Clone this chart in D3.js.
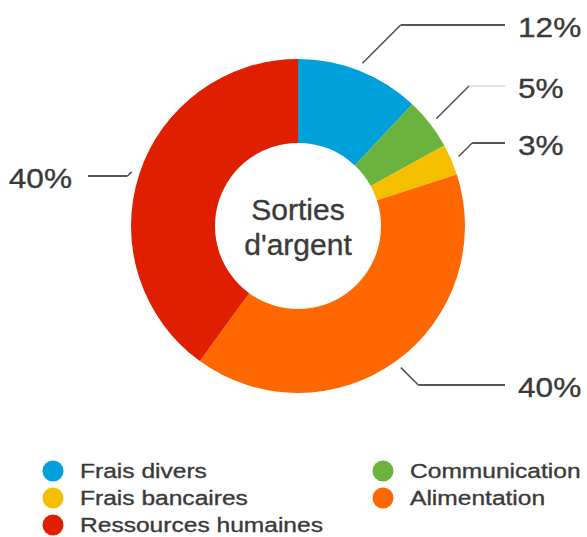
<!DOCTYPE html>
<html>
<head>
<meta charset="utf-8">
<script src="https://cdn.jsdelivr.net/npm/d3@7"></script>
<style>
  html, body { margin: 0; padding: 0; background: #fff; }
  svg { display: block; }
  text { font-family: "Liberation Sans", Arial, Helvetica, sans-serif; fill: #3a3a3a; stroke: #3a3a3a; stroke-width: 0.35px; }
</style>
</head>
<body>
<svg id="chart" width="587" height="537"></svg>
<script>
// ---- data ----
const categories = ["Frais divers", "Communication", "Frais bancaires", "Alimentation", "Ressources humaines"];
const values = [12, 5, 3, 40, 40];
const colors = ["#00A0DA", "#6BB33F", "#F5BF00", "#FF6700", "#E01F00"];
const centerTitle = ["Sorties", "d'argent"];

// ---- layout ----
const W = 587, H = 537;
const cx = 298, cy = 226;
const outerR = 167, innerR = 83, leaderR = 175;
const labelLineY = [25, 86, 143, 385, 176];   // label placement (avoids overlap)
const lineColor = ["#555", "#555", "#555", "#555", "#555"];
const hLineColor = ["#555", "#e2e2e2", "#555", "#555", "#555"];
const stretch = 1.17;

const svg = d3.select("#chart");
const g = svg.append("g").attr("transform", `translate(${cx},${cy})`);

const pie = d3.pie().sort(null).value(d => d.v).startAngle(0).endAngle(2 * Math.PI);
const data = pie(values.map((v, i) => ({ v, name: categories[i], i })));
const arc = d3.arc().innerRadius(innerR).outerRadius(outerR);

g.selectAll("path.slice").data(data).join("path")
  .attr("class", "slice")
  .attr("d", arc)
  .attr("fill", d => colors[d.data.i]);

// center title
g.append("text").attr("text-anchor", "middle").attr("x", 0).attr("y", -6)
  .style("font-size", "30px").text(centerTitle[0]);
g.append("text").attr("text-anchor", "middle").attr("x", 0).attr("y", 29)
  .style("font-size", "30px").text(centerTitle[1]);

// leader lines & labels
data.forEach(d => {
  const i = d.data.i;
  const a = (d.startAngle + d.endAngle) / 2;
  const sx = cx + leaderR * Math.sin(a);
  const sy = cy - leaderR * Math.cos(a);
  const ly = labelLineY[i];
  const right = Math.sin(a) >= 0;
  const dy = Math.abs(ly - sy);
  const ex = right ? sx + dy : sx - dy;
  const endX = right ? 505 : 88;
  svg.append("line").attr("x1", sx).attr("y1", sy).attr("x2", ex).attr("y2", ly)
    .attr("stroke", lineColor[i]).attr("stroke-width", 1.6);
  svg.append("line").attr("x1", ex).attr("y1", ly).attr("x2", endX).attr("y2", ly)
    .attr("stroke", hLineColor[i]).attr("stroke-width", 2);
  const tx = right ? 518 : 72;
  svg.append("text")
    .attr("transform", `translate(${tx},${ly + 12}) scale(${stretch},1)`)
    .attr("text-anchor", right ? "start" : "end")
    .style("font-size", "27px")
    .text(`${values[i]}%`);
});

// legend (2 columns, row-major)
const legend = svg.append("g");
categories.forEach((c, i) => {
  const col = i % 2, row = Math.floor(i / 2);
  const x0 = col === 0 ? 53 : 383;
  const y0 = 471 + row * 27;
  legend.append("circle").attr("cx", x0).attr("cy", y0).attr("r", 10.5).attr("fill", colors[i]);
  legend.append("text")
    .attr("transform", `translate(${x0 + 27},${y0 + 7}) scale(${stretch},1)`)
    .style("font-size", "21px")
    .text(c);
});
</script>
</body>
</html>
